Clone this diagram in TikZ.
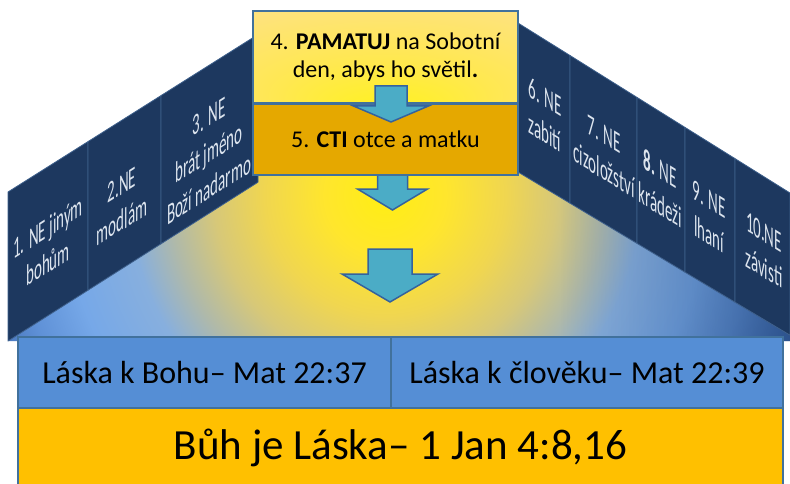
\documentclass[tikz,border=0pt]{standalone}
\usepackage{fontspec}
\setmainfont{Carlito}
\usetikzlibrary{fadings}
\definecolor{panelfill}{RGB}{29,56,95}
\definecolor{paneledge}{RGB}{62,96,140}
\definecolor{paneltext}{RGB}{220,228,238}
\definecolor{boxedge}{RGB}{65,113,156}
\definecolor{honourgold}{RGB}{229,168,0}
\definecolor{loveblue}{RGB}{85,142,213}
\definecolor{lovegold}{RGB}{255,192,0}
\definecolor{arrowfill}{RGB}{75,172,198}
\definecolor{arrowedge}{RGB}{52,98,158}
\definecolor{shadowblue}{RGB}{25,55,100}
\pgfdeclareradialshading{floorglow}{\pgfpoint{0bp}{0bp}}{%
  color(0bp)=(rgb,255:red,255;green,238;blue,20);
  color(60bp)=(rgb,255:red,255;green,230;blue,45);
  color(120bp)=(rgb,255:red,240;green,214;blue,80);
  color(170bp)=(rgb,255:red,215;green,200;blue,120);
  color(215bp)=(rgb,255:red,175;green,185;blue,170);
  color(255bp)=(rgb,255:red,135;green,175;blue,222);
  color(320bp)=(rgb,255:red,118;green,168;blue,232);
  color(370bp)=(rgb,255:red,95;green,145;blue,215);
  color(420bp)=(rgb,255:red,65;green,110;blue,180);
  color(480bp)=(rgb,255:red,45;green,85;blue,150)}
\pgfdeclareradialshading{sabbathglow}{\pgfpoint{0bp}{-30bp}}{%
  color(0bp)=(rgb,255:red,255;green,242;blue,30);
  color(20bp)=(rgb,255:red,255;green,232;blue,80);
  color(45bp)=(rgb,255:red,254;green,226;blue,130);
  color(70bp)=(rgb,255:red,253;green,222;blue,140)}
\tikzfading[name=fade right, left color=transparent!100, right color=transparent!0]
\tikzstyle{panel}=[fill=panelfill, draw=paneledge, line width=0.8pt, line join=round]
\tikzstyle{lefttext}=[text=paneltext, font=\fontsize{30}{36}\selectfont, align=center, inner sep=0pt, yslant=0.63, xscale=0.5]
\tikzstyle{righttext}=[text=paneltext, font=\fontsize{30}{36}\selectfont, align=center, inner sep=0pt, yslant=-0.62, xscale=0.5]
\tikzstyle{topbox}=[draw=boxedge, line width=1.5pt, minimum width=265pt, inner sep=0pt, align=center, font=\fontsize{24}{28}\selectfont]
\tikzstyle{lovebox}=[fill=loveblue, draw=boxedge, line width=1.5pt, minimum height=71pt, inner sep=0pt, font=\fontsize{32}{38}\selectfont]
\tikzstyle{godbox}=[fill=lovegold, draw=boxedge, line width=1.5pt, minimum width=765pt, minimum height=79pt, inner sep=0pt, font=\fontsize{43}{50}\selectfont]
\tikzstyle{blockarrow}=[fill=arrowfill, draw=arrowedge, line width=1.5pt, line join=miter]
\newcommand{\lpanel}{\node[lefttext]}
\newcommand{\rpanel}{\node[righttext]}
% x, top, tip, half shaft, half head, head start
\newcommand{\downblock}[6]{\draw[blockarrow] (#1-#4,#2) -- (#1+#4,#2) -- (#1+#4,#6) -- (#1+#5,#6) -- (#1,#3) -- (#1-#5,#6) -- (#1-#4,#6) -- cycle;}

\begin{document}
\begin{tikzpicture}[x=1pt, y=-1pt]
\clip (0,0) rectangle (790,484);
\fill[white] (0,0) rectangle (790,484);
% floor
\begin{scope}
\clip (8,341) -- (258,182.2) -- (258,170) -- (513,169) -- (800,341) -- cycle;
\node[inner sep=0pt] (glow) at (385,195) {\pgfuseshading{floorglow}};
\fill[shadowblue, fill opacity=0.45, path fading=fade right] (560,160) rectangle (790,345);
\end{scope}
% left panels
\draw[panel] (8,192) -- (88,141.6) -- (88,290.2) -- (8,341) -- cycle;
\draw[panel] (88,141.6) -- (161,95.6) -- (161,243.8) -- (88,290.2) -- cycle;
\draw[panel] (161,95.6) -- (258,34.5) -- (258,182.2) -- (161,243.8) -- cycle;
% right panels
\draw[panel] (513,19.9) -- (570,55.5) -- (570,203.2) -- (513,169) -- cycle;
\draw[panel] (570,55.5) -- (637,97.4) -- (637,243.4) -- (570,203.2) -- cycle;
\draw[panel] (637,97.4) -- (685,127.4) -- (685,272.2) -- (637,243.4) -- cycle;
\draw[panel] (685,127.4) -- (735,158.6) -- (735,302.2) -- (685,272.2) -- cycle;
\draw[panel] (735,158.6) -- (790,193) -- (790,335.2) -- (735,302.2) -- cycle;
\lpanel (ne1) at (48,245) {1. NE jiným\\bohům};
\lpanel (ne2) at (122,203) {2.NE\\modlám};
\lpanel (ne3) at (209,153) {3. NE\\brát jméno\\Boží nadarmo};
\rpanel (ne6) at (545,115) {6. NE\\zabití};
\rpanel (ne7) at (604,152) {7. NE\\cizoložství};
\rpanel (ne8) at (660,187) {{\bfseries 8.} NE\\krádeži};
\rpanel (ne9) at (709,217) {9. NE\\lhaní};
\rpanel (ne10) at (764,250) {10.NE\\závisti};
% the two commandments on top
\downblock{392.5}{170}{210}{15}{35}{189}
\node[topbox, fill=honourgold, minimum height=71pt] (honour) at (385.5,139.5) {5. \textbf{CTI} otce a matku};
\node[topbox, shade, shading=sabbathglow, minimum height=92pt] (remember) at (385.5,57) {4. \textbf{PAMATUJ} na Sobotní\\den, abys ho světil\textbf{.}};
\downblock{391}{86}{122}{16}{37.5}{106}
\downblock{390}{249}{302}{22}{48}{274}
% love
\node[lovebox, minimum width=373pt] (godlove) at (204.5,372.5) {Láska k Bohu– Mat 22:37};
\node[lovebox, minimum width=392pt] (neighbourlove) at (587,372.5) {Láska k člověku– Mat 22:39};
\node[godbox] (godislove) at (400.5,447.5) {Bůh je Láska– 1 Jan 4:8,16};
\end{tikzpicture}
\end{document}
